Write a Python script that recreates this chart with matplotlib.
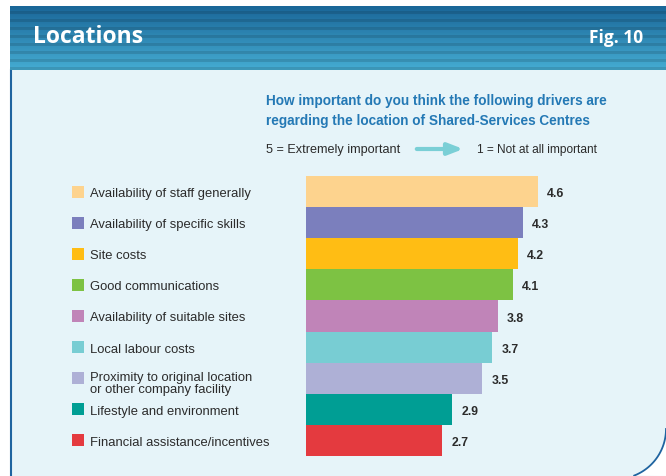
import matplotlib.pyplot as plt
import matplotlib.patches as mpatches
import numpy as np

W, H = 666, 477

drivers = [
    "Availability of staff generally",
    "Availability of specific skills",
    "Site costs",
    "Good communications",
    "Availability of suitable sites",
    "Local labour costs",
    "Proximity to original location\nor other company facility",
    "Lifestyle and environment",
    "Financial assistance/incentives",
]
scores = [4.6, 4.3, 4.2, 4.1, 3.8, 3.7, 3.5, 2.9, 2.7]
colours = ["#FDD38E", "#7B7FBD", "#FFBD14", "#7DC243", "#C084B8",
           "#78CDD3", "#AEB0D6", "#009E94", "#E43A3F"]

PANEL = "#E6F4F9"
TEXT = "#2B2B2B"
FONT = "Liberation Sans"

fig = plt.figure(figsize=(W / 100, H / 100), dpi=100)

# background layer in pixel coordinates
bg = fig.add_axes([0, 0, 1, 1])
bg.set_xlim(0, W)
bg.set_ylim(H, 0)
bg.axis("off")

# panel with rounded bottom-right corner
bg.add_patch(mpatches.Rectangle((10, 60), W - 10, H - 60, color=PANEL, lw=0, zorder=0))
theta = np.linspace(0, np.pi / 2, 60)
cx, cy, r = 616, 430, 50
arc_x = cx + r * np.cos(theta)
arc_y = cy + r * np.sin(theta)
mask = arc_y <= H
bg.fill(np.r_[arc_x[mask], W, W], np.r_[arc_y[mask], H, cy],
        color="white", lw=0, zorder=1)
bg.plot(arc_x[mask], arc_y[mask], color="#1F64A0", lw=1.3, zorder=2)
bg.plot([11, 11], [71, H], color="#1F64A0", lw=1.5, zorder=2)

# striped header band
top, bot = 7, 71
rows = np.arange(bot - top)
t = rows / (len(rows) - 1)
c0 = np.array([0x1A, 0x66, 0x98]) / 255
c1 = np.array([0x45, 0xAC, 0xD2]) / 255
grad = c0[None, :] * (1 - t[:, None]) + c1[None, :] * t[:, None]
stripe = ((rows % 8) >= 5)[:, None]
grad = np.where(stripe, grad * 0.88, grad)
bg.imshow(grad[:, None, :], extent=(10, W, bot, top), aspect="auto", zorder=3)
bg.text(33, 37, "Locations", color="white", fontsize=16.5, fontweight="bold",
        family="Open Sans", va="center", ha="left", zorder=4)
bg.text(643, 38, "Fig. 10", color="white", fontsize=12.5, fontweight="bold",
        family="Open Sans", va="center", ha="right", zorder=4)

# question text
bg.text(266, 101, "How important do you think the following drivers are",
        color="#2479B5", fontsize=9.8, fontweight="bold", family=FONT, va="center")
bg.text(266, 121, "regarding the location of Shared-Services Centres",
        color="#2479B5", fontsize=9.8, fontweight="bold", family=FONT, va="center")
bg.text(266, 150, "5 = Extremely important", color=TEXT, fontsize=9.1,
        family=FONT, va="center")
bg.annotate("", xy=(466, 150), xytext=(414, 150),
            arrowprops=dict(arrowstyle="-|>,head_length=0.9,head_width=0.35",
                            color="#7ACFD6", lw=3))
bg.text(477, 150, "1 = Not at all important", color=TEXT, fontsize=8.6,
        family=FONT, va="center")

# bar chart
bar_top, bar_bot = 177, 457
x_left, px_per_unit = 306, 50.4
ax_w = W - x_left
ax = fig.add_axes([x_left / W, 1 - bar_bot / H, ax_w / W, (bar_bot - bar_top) / H])
ax.set_xlim(0, ax_w / px_per_unit)
ax.set_ylim(len(scores) - 0.5, -0.5)
ax.axis("off")
ax.patch.set_alpha(0)
y = np.arange(len(scores))
ax.barh(y, scores, height=1.0, color=colours, lw=0)
for yi, v in zip(y, scores):
    ax.text(v + 0.18, yi + 0.05, f"{v:.1f}", va="center", ha="left", fontsize=8.8,
            fontweight="bold", color=TEXT, family=FONT)

# category labels with colour squares
row_h = (bar_bot - bar_top) / len(scores)
for i, (name, col) in enumerate(zip(drivers, colours)):
    yc = bar_top + row_h * (i + 0.5)
    bg.add_patch(mpatches.Rectangle((72, yc - 6), 12, 12, color=col, lw=0, zorder=3))
    bg.text(90, yc + (5 if "\n" in name else 1.5), name, color=TEXT, fontsize=9.4,
            family=FONT, va="center", ha="left", linespacing=1.05, zorder=3)

fig.savefig("out.png", dpi=100)
